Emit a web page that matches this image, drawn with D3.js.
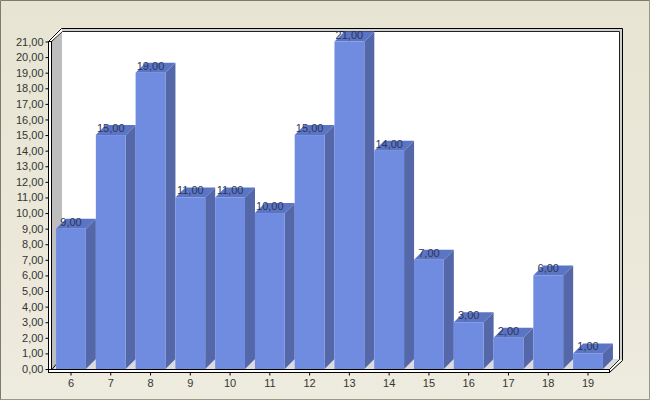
<!DOCTYPE html>
<html><head><meta charset="utf-8">
<script src="https://cdn.jsdelivr.net/npm/d3@7"></script>
<style>html,body{margin:0;padding:0;background:#ebe8da;overflow:hidden}svg{display:block}
text{font-family:"Liberation Sans",Arial,sans-serif;font-size:11px}</style></head><body>
<svg id="c" width="650" height="400"></svg>
<script>
const categories=[6,7,8,9,10,11,12,13,14,15,16,17,18,19];
const values=[9,15,19,11,11,10,15,21,14,7,3,2,6,1];
const yTicks=d3.range(0,22);
const fmt=v=>v.toFixed(2).replace('.',',');

const svg=d3.select('#c');
const defs=svg.append('defs');
const g=defs.append('linearGradient').attr('id','bg').attr('x1',0).attr('y1',0).attr('x2',0).attr('y2',1);
g.append('stop').attr('offset',0).attr('stop-color','#e7e4d3');
g.append('stop').attr('offset',1).attr('stop-color','#eeebdf');
svg.append('rect').attr('width',650).attr('height',400).attr('fill','url(#bg)');
svg.append('path').attr('d','M0.5,400V0.5H650').attr('fill','none').attr('stroke','#7d7c68');
svg.append('path').attr('d','M0.5,399.5H649.5V0').attr('fill','none').attr('stroke','#9a9985');

const yB=369,yT=41.5,dx=10,dy=10;
const x=d3.scaleBand().domain(categories).range([51.1,607.9]).paddingInner(0.25).paddingOuter(0.125);
const y=d3.scaleLinear().domain([0,21]).range([yB,yT]);
defs.append('clipPath').attr('id','clip').append('rect').attr('x',40).attr('y',31).attr('width',590).attr('height',345);
const poly=(pts,fill)=>svg.append('polygon').attr('points',pts.map(p=>p.join(',')).join(' ')).attr('fill',fill);

// back wall, side wall, floor, white bevels
poly([[62,30],[620,30],[620,359],[62,359]],'#fff');
poly([[52,41],[62,31],[62,359],[52,369]],'#bdbdbd');
poly([[52,369],[62,359],[620,359],[609,369]],'#dcdce0');
poly([[48,41],[61,28],[64,31],[52,41]],'#fff');
poly([[609,370],[620,360],[622,360],[609,372]],'#fff');
// frame lines
svg.append('rect').attr('x',62).attr('y',29).attr('width',560).attr('height',2).attr('fill','#d0d0d0');
svg.append('rect').attr('x',620).attr('y',31).attr('width',2).attr('height',329).attr('fill','#d0d0d0');
svg.append('path').attr('fill','none').attr('stroke','#000').attr('d','M48.5,41.5L61.5,28.5H622.5V360.5L609.5,372.5');
svg.append('path').attr('fill','none').attr('stroke','#222').attr('d','M51.5,41.5L62.5,31.5H619.5V359.5L609.5,369.5');
svg.append('path').attr('fill','none').attr('stroke','#000').attr('d','M56,364.5L52,369.5');

// bars
const bars=svg.append('g').selectAll('g').data(categories).join('g');
bars.each(function(c,i){
  const s=d3.select(this),l=x(c),r=l+x.bandwidth(),t=y(values[i]);
  const P=(pts,f)=>s.append('polygon').attr('points',pts.map(p=>p.join(',')).join(' ')).attr('fill',f);
  P([[r,t],[r+dx,t-dy],[r+dx,yB-dy],[r,yB]],'#5468a9');
  P([[l,t],[l+dx,t-dy],[r+dx,t-dy],[r,t]],'#5b74c4');
  s.append('rect').attr('x',l).attr('y',t).attr('width',x.bandwidth()).attr('height',yB-t).attr('fill','#6f8ce0');
});
// value labels
svg.append('g').attr('clip-path','url(#clip)').attr('opacity',0.99).selectAll('text').data(categories).join('text')
  .attr('x',c=>x(c)+x.bandwidth()/2).attr('y',(c,i)=>y(values[i])-3)
  .attr('text-anchor','middle').attr('fill','#2c3558').text((c,i)=>fmt(values[i]));

// front axis strips
svg.append('rect').attr('x',48.5).attr('y',41.5).attr('width',3).attr('height',331).attr('fill','#fff').attr('stroke','#000');
svg.append('rect').attr('x',48.5).attr('y',369.5).attr('width',561).attr('height',3).attr('fill','#fff').attr('stroke','#000');

// axes
const ax=svg.append('g').attr('transform','translate(48.5,0)').call(d3.axisLeft(y).tickValues(yTicks).tickFormat(fmt).tickSize(3).tickPadding(2));
const bx=svg.append('g').attr('transform','translate(0,372.5)').call(d3.axisBottom(x).tickSize(3).tickPadding(4));
[ax,bx].forEach(a=>{a.attr('opacity',0.99);a.select('.domain').remove();a.selectAll('line').attr('stroke','#000');
  a.selectAll('text').attr('fill','#333').style('font-family','"Liberation Sans",Arial,sans-serif').style('font-size','11px');});
</script></body></html>
